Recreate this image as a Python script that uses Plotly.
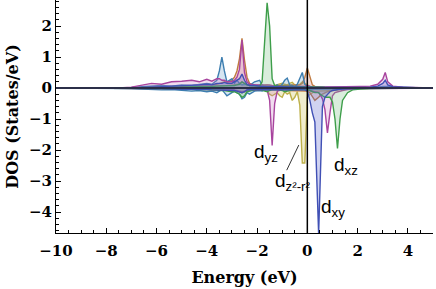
import plotly.graph_objects as go

# Energy grid (eV)
energy = [-10.0, -7.5, -7.0, -6.6, -6.2, -5.8, -5.4, -5.0, -4.6, -4.3,
          -4.0, -3.8, -3.6, -3.5, -3.4, -3.3, -3.2, -3.0, -2.9, -2.8,
          -2.7, -2.6, -2.5, -2.4, -2.3, -2.1, -1.9, -1.8, -1.7, -1.6,
          -1.5, -1.4, -1.3, -1.2, -1.1, -1.0, -0.9, -0.8, -0.7, -0.6,
          -0.5, -0.4, -0.3, -0.2, -0.1, 0.0, 0.1, 0.2, 0.3, 0.45,
          0.5, 0.6, 0.7, 0.8, 0.9, 1.0, 1.1, 1.2, 1.3, 1.4,
          1.6, 1.8, 2.1, 2.5, 2.8, 3.0, 3.1, 3.2, 3.4, 3.8,
          4.3, 5.0]

steel_up = [0, 0, 0.02, 0.04, 0.05, 0.08, 0.06, 0.1, 0.08, 0.12,
            0.15, 0.12, 0.25, 0.55, 1.0, 0.55, 0.2, 0.3, 0.15, 0.25,
            0.15, 0.1, 0.12, 0.1, 0.08, 0.2, 0.25, 0.1, 0.05, 0.05,
            0.05, 0.05, 0.05, 0.1, 0.05, 0.12, 0.25, 0.32, 0.1, 0.08,
            0.05, 0.12, 0.3, 0.5, 0.12, 0.05, 0.03, 0.02, 0.02, 0.02,
            0.02, 0.02, 0.02, 0.03, 0.02, 0.02, 0.02, 0.02, 0.02, 0.02,
            0.02, 0.01, 0.01, 0.02, 0.03, 0.05, 0.06, 0.05, 0.03, 0.02,
            0.01, 0]
steel_dn = [0, 0, -0.02, -0.03, -0.05, -0.06, -0.05, -0.08, -0.1, -0.08,
            -0.12, -0.1, -0.15, -0.1, -0.05, -0.15, -0.25, -0.15, -0.1, -0.15,
            -0.2, -0.35, -0.3, -0.15, -0.2, -0.1, -0.08, -0.1, -0.05, -0.05,
            -0.03, -0.05, -0.05, -0.05, -0.08, -0.05, -0.05, -0.05, -0.03, -0.05,
            -0.05, -0.05, -0.05, -0.05, -0.05, -0.05, -0.05, -0.05, -0.05, -0.05,
            -0.05, -0.05, -0.05, -0.05, -0.05, -0.04, -0.04, -0.04, -0.03, -0.03,
            -0.02, -0.02, -0.02, -0.02, -0.02, -0.02, -0.02, -0.02, -0.02, -0.01,
            -0.01, 0]

orange_up = [0, 0, 0.01, 0.02, 0.03, 0.04, 0.04, 0.05, 0.06, 0.08,
             0.08, 0.1, 0.12, 0.15, 0.18, 0.2, 0.18, 0.25, 0.35, 0.55,
             0.95, 1.6, 0.9, 0.35, 0.15, 0.1, 0.08, 0.08, 0.06, 0.05,
             0.05, 0.05, 0.05, 0.06, 0.08, 0.08, 0.06, 0.06, 0.08, 0.1,
             0.1, 0.1, 0.1, 0.15, 0.35, 0.65, 0.4, 0.1, 0.05, 0.03,
             0.03, 0.02, 0.02, 0.02, 0.02, 0.02, 0.02, 0.02, 0.01, 0.01,
             0.01, 0.01, 0.01, 0.01, 0.01, 0.02, 0.03, 0.02, 0.01, 0.01,
             0, 0]
orange_dn = [0, 0, 0, -0.01, -0.02, -0.02, -0.03, -0.03, -0.04, -0.05,
             -0.05, -0.05, -0.06, -0.06, -0.06, -0.07, -0.08, -0.08, -0.08, -0.1,
             -0.12, -0.15, -0.12, -0.08, -0.06, -0.05, -0.05, -0.05, -0.05, -0.05,
             -0.05, -0.05, -0.05, -0.05, -0.05, -0.05, -0.06, -0.08, -0.08, -0.1,
             -0.1, -0.08, -0.08, -0.1, -0.1, -0.1, -0.15, -0.3, -0.4, -0.3,
             -0.25, -0.2, -0.15, -0.12, -0.1, -0.08, -0.06, -0.05, -0.04, -0.03,
             -0.02, -0.02, -0.01, -0.01, -0.01, -0.01, -0.01, -0.01, -0.01, -0.01,
             0, 0]

magenta_up = [0, 0, 0.03, 0.08, 0.15, 0.12, 0.2, 0.22, 0.25, 0.2,
              0.28, 0.22, 0.3, 0.3, 0.25, 0.25, 0.2, 0.2, 0.25, 0.35,
              0.6, 1.55, 0.5, 0.2, 0.12, 0.1, 0.1, 0.1, 0.1, 0.12,
              0.1, 0.08, 0.08, 0.06, 0.06, 0.06, 0.05, 0.05, 0.05, 0.05,
              0.05, 0.05, 0.05, 0.05, 0.05, 0.08, 0.05, 0.03, 0.03, 0.03,
              0.03, 0.03, 0.03, 0.03, 0.03, 0.03, 0.03, 0.03, 0.03, 0.04,
              0.04, 0.04, 0.05, 0.06, 0.12, 0.28, 0.5, 0.2, 0.06, 0.03,
              0.02, 0]
magenta_dn = [0, 0, 0, -0.01, -0.01, -0.02, -0.02, -0.03, -0.03, -0.03,
              -0.04, -0.04, -0.05, -0.05, -0.05, -0.05, -0.05, -0.05, -0.06, -0.08,
              -0.1, -0.12, -0.1, -0.06, -0.05, -0.05, -0.05, -0.05, -0.05, -0.06,
              -0.4, -1.85, -0.5, -0.12, -0.05, -0.05, -0.05, -0.05, -0.05, -0.05,
              -0.05, -0.05, -0.05, -0.05, -0.05, -0.05, -0.08, -0.1, -0.12, -0.15,
              -0.2, -0.35, -0.7, -1.45, -0.8, -0.25, -0.15, -0.12, -0.1, -0.08,
              -0.05, -0.03, -0.02, -0.02, -0.02, -0.03, -0.03, -0.02, -0.02, -0.01,
              -0.01, 0]

olive_up = [0, 0, 0.01, 0.02, 0.02, 0.03, 0.03, 0.04, 0.05, 0.05,
            0.06, 0.06, 0.08, 0.08, 0.08, 0.08, 0.08, 0.1, 0.1, 0.12,
            0.15, 0.2, 0.15, 0.1, 0.08, 0.08, 0.06, 0.06, 0.08, 0.1,
            0.08, 0.06, 0.08, 0.1, 0.12, 0.15, 0.12, 0.1, 0.15, 0.18,
            0.1, 0.08, 0.12, 0.2, 0.15, 0.1, 0.05, 0.03, 0.02, 0.02,
            0.02, 0.02, 0.02, 0.02, 0.02, 0.02, 0.02, 0.02, 0.02, 0.02,
            0.01, 0.01, 0.01, 0.01, 0.01, 0.02, 0.02, 0.02, 0.01, 0.01,
            0, 0]
olive_dn = [0, 0, 0, -0.01, -0.01, -0.02, -0.02, -0.02, -0.03, -0.03,
            -0.04, -0.04, -0.05, -0.05, -0.06, -0.06, -0.08, -0.08, -0.08, -0.1,
            -0.12, -0.15, -0.12, -0.08, -0.06, -0.05, -0.05, -0.05, -0.06, -0.1,
            -0.2, -0.25, -0.2, -0.15, -0.25, -0.3, -0.12, -0.2, -0.15, -0.4,
            -0.3, -0.12, -0.55, -2.42, -2.42, -0.3, -0.2, -0.15, -0.12, -0.1,
            -0.1, -0.1, -0.1, -0.1, -0.1, -0.08, -0.06, -0.05, -0.04, -0.03,
            -0.02, -0.02, -0.01, -0.01, -0.01, -0.01, -0.01, -0.01, -0.01, -0.01,
            0, 0]

green_up = [0, 0, 0.01, 0.01, 0.02, 0.02, 0.03, 0.03, 0.04, 0.04,
            0.05, 0.05, 0.06, 0.06, 0.06, 0.06, 0.06, 0.08, 0.08, 0.1,
            0.12, 0.2, 0.15, 0.1, 0.08, 0.06, 0.06, 0.2, 1.5, 2.75,
            2.0, 0.3, 0.08, 0.06, 0.05, 0.06, 0.05, 0.05, 0.05, 0.05,
            0.05, 0.05, 0.05, 0.05, 0.05, 0.05, 0.04, 0.03, 0.03, 0.03,
            0.03, 0.03, 0.02, 0.02, 0.02, 0.02, 0.02, 0.02, 0.02, 0.02,
            0.02, 0.01, 0.01, 0.01, 0.01, 0.02, 0.02, 0.02, 0.01, 0.01,
            0, 0]
green_dn = [0, 0, 0, -0.01, -0.02, -0.02, -0.03, -0.03, -0.04, -0.05,
            -0.05, -0.06, -0.08, -0.08, -0.08, -0.08, -0.1, -0.12, -0.12, -0.15,
            -0.2, -0.3, -0.25, -0.12, -0.1, -0.06, -0.05, -0.08, -0.1, -0.12,
            -0.08, -0.05, -0.05, -0.05, -0.05, -0.08, -0.12, -0.1, -0.08, -0.06,
            -0.05, -0.05, -0.05, -0.05, -0.05, -0.05, -0.08, -0.12, -0.15, -0.15,
            -0.2, -0.25, -0.3, -0.3, -0.3, -0.45, -1.0, -1.95, -1.0, -0.4,
            -0.15, -0.06, -0.03, -0.02, -0.02, -0.02, -0.02, -0.02, -0.01, -0.01,
            -0.01, 0]

blue_up = [0, 0, 0.01, 0.02, 0.03, 0.04, 0.05, 0.06, 0.08, 0.1,
           0.12, 0.1, 0.15, 0.15, 0.15, 0.18, 0.15, 0.15, 0.2, 0.25,
           0.3, 0.45, 0.25, 0.12, 0.08, 0.08, 0.05, 0.05, 0.05, 0.05,
           0.05, 0.04, 0.04, 0.04, 0.04, 0.04, 0.04, 0.04, 0.04, 0.04,
           0.04, 0.04, 0.04, 0.04, 0.05, 0.04, 0.03, 0.02, 0.02, 0.02,
           0.02, 0.02, 0.02, 0.02, 0.02, 0.02, 0.02, 0.02, 0.02, 0.02,
           0.02, 0.02, 0.02, 0.03, 0.06, 0.15, 0.25, 0.1, 0.04, 0.02,
           0.01, 0]
blue_dn = [0, 0, 0, -0.01, -0.02, -0.02, -0.03, -0.03, -0.04, -0.05,
           -0.05, -0.06, -0.06, -0.06, -0.06, -0.06, -0.06, -0.08, -0.08, -0.1,
           -0.12, -0.15, -0.12, -0.06, -0.05, -0.05, -0.05, -0.05, -0.05, -0.05,
           -0.05, -0.05, -0.05, -0.05, -0.05, -0.05, -0.05, -0.05, -0.05, -0.05,
           -0.05, -0.05, -0.05, -0.05, -0.06, -0.1, -0.4, -0.8, -1.1, -4.7,
           -3.0, -0.6, -0.3, -0.2, -0.12, -0.08, -0.06, -0.05, -0.04, -0.03,
           -0.02, -0.02, -0.01, -0.01, -0.01, -0.01, -0.01, -0.01, -0.01, -0.01,
           0, 0]

x_ticks = [-10, -8, -6, -4, -2, 0, 2, 4]
y_ticks = [-4, -3, -2, -1, 0, 1, 2]

series = [
    (olive_up, olive_dn, "#BDB04A", "rgba(205,195,90,0.30)"),
    (orange_up, orange_dn, "#C07A40", "rgba(215,140,130,0.30)"),
    (steel_up, steel_dn, "#3D7EB0", "rgba(90,150,200,0.25)"),
    (magenta_up, magenta_dn, "#A8449E", "rgba(200,120,190,0.25)"),
    (green_up, green_dn, "#3E9E4A", "rgba(120,190,130,0.28)"),
    (blue_up, blue_dn, "#4050B5", "rgba(100,110,210,0.30)"),
]

fig = go.Figure()
for up, dn, col, fcol in series:
    for vals in (up, dn):
        fig.add_trace(go.Scatter(x=energy, y=vals, mode="lines",
                                 line=dict(color=col, width=1.4),
                                 fill="tozeroy", fillcolor=fcol,
                                 hoverinfo="skip"))

tick_font = dict(family="DejaVu Serif", size=15, color="black", weight="bold")
title_font = dict(family="DejaVu Serif", size=16, color="black", weight="bold")

fig.update_layout(
    width=436, height=289,
    margin=dict(l=56, r=3, t=0, b=56, autoexpand=False),
    plot_bgcolor="white", paper_bgcolor="white",
    showlegend=False,
    xaxis=dict(range=[-10, 5], tickvals=x_ticks, ticks="inside", ticklen=5,
               tickwidth=1, tickcolor="black", showline=True, linecolor="black",
               linewidth=1, showgrid=False, zeroline=False, tickfont=tick_font,
               automargin=False, ticklabelstandoff=4,
               minor=dict(ticks="inside", ticklen=3, dtick=0.5, tick0=0,
                          tickcolor="black", showgrid=False),
               title=dict(text="Energy (eV)", font=title_font, standoff=12)),
    yaxis=dict(range=[-4.677, 2.839], tickvals=y_ticks, ticks="inside", ticklen=5,
               tickwidth=1, tickcolor="black", showline=True, linecolor="black",
               linewidth=1, showgrid=False, zeroline=False, tickfont=tick_font,
               automargin=False,
               minor=dict(ticks="inside", ticklen=3, dtick=0.2, tick0=0,
                          tickcolor="black", showgrid=False),
               title=dict(text="DOS (States/eV)", font=title_font, standoff=6)),
)

fig.add_shape(type="line", xref="paper", yref="y", x0=0, x1=1, y0=0, y1=0,
              line=dict(color="#2b2f48", width=2), layer="above")
fig.add_shape(type="line", xref="x", yref="paper", x0=0, x1=0, y0=0, y1=1,
              line=dict(color="black", width=1.5), layer="above")
fig.add_shape(type="line", xref="x", yref="y", x0=-0.82, y0=-2.65, x1=-0.34, y1=-1.84,
              line=dict(color="black", width=0.8), layer="above")

lab_font = dict(family="Liberation Sans", size=19, color="black")
labels = [
    ("d<sub>yz</sub>", -2.21, -2.1),
    ("d<sub>z²-r²</sub>", -1.37, -3.03),
    ("d<sub>xz</sub>", 0.98, -2.52),
    ("d<sub>xy</sub>", 0.45, -3.87),
]
for txt, lx, ly in labels:
    fig.add_annotation(x=lx, y=ly, text=txt, showarrow=False, xanchor="left",
                       yanchor="middle", font=lab_font)

fig.write_html("out.html", config={"displayModeBar": False},
               post_script="document.body.style.margin='0px';")
